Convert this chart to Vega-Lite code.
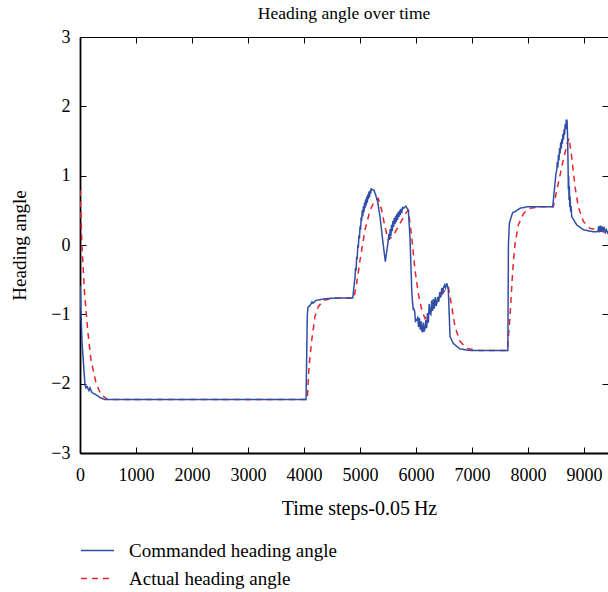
{
  "$schema": "https://vega.github.io/schema/vega-lite/v6.json",
  "autosize": {"type": "none"},
  "padding": {"left": 80, "top": 37, "right": 0, "bottom": 139},
  "width": 528,
  "height": 416,
  "background": "white",
  "title": {"text": "Heading angle over time", "font": "Liberation Serif", "fontSize": 17.5, "fontWeight": "normal", "color": "black", "offset": 6, "anchor": "middle"},
  "config": {"view": {"stroke": null}, "font": "Liberation Serif"},
  "datasets": {
    "cmd": [
      {"t":0,"v":-0.58},{"t":36,"v":-1.4},{"t":89,"v":-2.02},{"t":107,"v":-2.06},{"t":125,"v":-2.04},{"t":161,"v":-2.1},{"t":179,"v":-2.06},{"t":214,"v":-2.13},{"t":268,"v":-2.15},{"t":357,"v":-2.2},{"t":446,"v":-2.23},
      {"t":4036,"v":-2.23},{"t":4059,"v":-1.01},{"t":4071,"v":-0.9},{"t":4107,"v":-0.87},{"t":4125,"v":-0.85},{"t":4143,"v":-0.82},{"t":4161,"v":-0.84},{"t":4214,"v":-0.8},{"t":4375,"v":-0.775},{"t":4554,"v":-0.765},{"t":4870,"v":-0.765},
      {"t":4911,"v":-0.46},{"t":4920,"v":-0.33},{"t":4930,"v":-0.37},{"t":4940,"v":-0.17},{"t":4950,"v":-0.2},{"t":4960,"v":0.0},{"t":4970,"v":-0.04},{"t":4980,"v":0.14},{"t":4990,"v":0.09},{"t":5000,"v":0.27},{"t":5010,"v":0.22},{"t":5020,"v":0.4},{"t":5030,"v":0.35},{"t":5040,"v":0.5},{"t":5050,"v":0.41},{"t":5060,"v":0.56},{"t":5070,"v":0.47},{"t":5080,"v":0.61},{"t":5090,"v":0.53},{"t":5100,"v":0.66},{"t":5110,"v":0.57},{"t":5120,"v":0.7},{"t":5130,"v":0.61},{"t":5140,"v":0.73},{"t":5150,"v":0.66},{"t":5160,"v":0.77},{"t":5170,"v":0.69},{"t":5180,"v":0.79},{"t":5190,"v":0.74},{"t":5200,"v":0.82},{"t":5209,"v":0.8},
      {"t":5250,"v":0.79},{"t":5309,"v":0.65},{"t":5357,"v":0.41},{"t":5405,"v":0.07},{"t":5452,"v":-0.24},
      {"t":5505,"v":0.07},{"t":5515,"v":0.16},{"t":5527,"v":0.08},{"t":5539,"v":0.23},{"t":5551,"v":0.13},{"t":5563,"v":0.29},{"t":5575,"v":0.2},{"t":5587,"v":0.35},{"t":5599,"v":0.26},{"t":5611,"v":0.39},{"t":5623,"v":0.3},{"t":5635,"v":0.42},{"t":5647,"v":0.33},{"t":5659,"v":0.45},{"t":5671,"v":0.36},{"t":5683,"v":0.48},{"t":5695,"v":0.4},{"t":5707,"v":0.5},{"t":5719,"v":0.43},{"t":5731,"v":0.52},{"t":5743,"v":0.46},{"t":5760,"v":0.54},{"t":5780,"v":0.53},{"t":5816,"v":0.56},{"t":5863,"v":0.5},{"t":5893,"v":0.1},
      {"t":5923,"v":-0.65},{"t":5935,"v":-0.8},{"t":5952,"v":-0.94},{"t":5960,"v":-0.92},{"t":5975,"v":-0.95},{"t":5990,"v":-1.1},{"t":6013,"v":-1.08},{"t":6030,"v":-1.05},{"t":6045,"v":-1.18},{"t":6060,"v":-1.05},{"t":6075,"v":-1.22},{"t":6090,"v":-1.1},{"t":6102,"v":-1.23},{"t":6115,"v":-1.26},{"t":6130,"v":-1.12},{"t":6145,"v":-1.25},{"t":6161,"v":-1.2},{"t":6175,"v":-1.08},{"t":6190,"v":-1.2},{"t":6205,"v":-0.98},{"t":6220,"v":-1.12},{"t":6235,"v":-0.85},{"t":6250,"v":-0.98},{"t":6265,"v":-1.0},{"t":6280,"v":-0.8},{"t":6295,"v":-0.95},{"t":6310,"v":-0.78},{"t":6325,"v":-0.92},{"t":6345,"v":-0.75},{"t":6360,"v":-0.88},{"t":6370,"v":-0.84},{"t":6390,"v":-0.75},{"t":6405,"v":-0.82},{"t":6425,"v":-0.68},{"t":6440,"v":-0.76},{"t":6460,"v":-0.62},{"t":6475,"v":-0.7},{"t":6488,"v":-0.62},{"t":6510,"v":-0.58},{"t":6525,"v":-0.62},{"t":6548,"v":-0.55},
      {"t":6577,"v":-0.65},{"t":6607,"v":-1.32},{"t":6666,"v":-1.42},{"t":6786,"v":-1.5},{"t":6964,"v":-1.52},{"t":7640,"v":-1.52},
      {"t":7650,"v":0.0},{"t":7666,"v":0.31},{"t":7709,"v":0.43},{"t":7730,"v":0.47},{"t":7768,"v":0.48},{"t":7857,"v":0.53},{"t":7977,"v":0.55},{"t":8441,"v":0.55},
      {"t":8500,"v":1.04},{"t":8513,"v":1.08},{"t":8523,"v":1.2},{"t":8533,"v":1.12},{"t":8543,"v":1.3},{"t":8553,"v":1.22},{"t":8563,"v":1.4},{"t":8573,"v":1.32},{"t":8583,"v":1.48},{"t":8593,"v":1.39},{"t":8603,"v":1.53},{"t":8613,"v":1.46},{"t":8623,"v":1.6},{"t":8633,"v":1.52},{"t":8643,"v":1.67},{"t":8653,"v":1.59},{"t":8663,"v":1.74},{"t":8673,"v":1.67},{"t":8683,"v":1.8},{"t":8696,"v":1.8},
      {"t":8705,"v":1.6},{"t":8714,"v":1.2},{"t":8720,"v":0.8},{"t":8725,"v":1.0},{"t":8732,"v":0.65},{"t":8738,"v":0.85},{"t":8745,"v":0.55},{"t":8752,"v":0.7},{"t":8760,"v":0.48},{"t":8770,"v":0.56},{"t":8780,"v":0.41},{"t":8870,"v":0.29},{"t":8988,"v":0.22},{"t":9166,"v":0.19},{"t":9232,"v":0.19},
      {"t":9250,"v":0.2},{"t":9260,"v":0.27},{"t":9275,"v":0.18},{"t":9290,"v":0.28},{"t":9305,"v":0.19},{"t":9320,"v":0.27},{"t":9340,"v":0.2},{"t":9360,"v":0.26},{"t":9380,"v":0.18},{"t":9400,"v":0.22},{"t":9428,"v":0.16}
    ],
    "act": [
      {"t":0,"v":0.79},{"t":36,"v":-0.02},{"t":77,"v":-0.65},{"t":137,"v":-1.23},{"t":196,"v":-1.66},{"t":286,"v":-1.99},{"t":375,"v":-2.16},{"t":495,"v":-2.23},
      {"t":4059,"v":-2.23},{"t":4089,"v":-1.76},{"t":4138,"v":-1.37},{"t":4196,"v":-1.03},{"t":4255,"v":-0.89},{"t":4345,"v":-0.8},{"t":4495,"v":-0.77},{"t":4893,"v":-0.765},
      {"t":4941,"v":-0.55},{"t":5000,"v":-0.22},{"t":5089,"v":0.22},{"t":5179,"v":0.5},{"t":5268,"v":0.65},{"t":5327,"v":0.67},{"t":5388,"v":0.5},{"t":5446,"v":0.26},{"t":5505,"v":0.07},{"t":5595,"v":0.14},{"t":5714,"v":0.31},{"t":5834,"v":0.48},{"t":5863,"v":0.5},
      {"t":5923,"v":0.12},{"t":5982,"v":-0.36},{"t":6041,"v":-0.7},{"t":6102,"v":-0.94},{"t":6161,"v":-1.06},{"t":6280,"v":-0.94},{"t":6398,"v":-0.79},{"t":6518,"v":-0.65},{"t":6577,"v":-0.6},
      {"t":6638,"v":-0.89},{"t":6696,"v":-1.18},{"t":6786,"v":-1.39},{"t":6905,"v":-1.49},{"t":7023,"v":-1.51},{"t":7143,"v":-1.52},{"t":7630,"v":-1.52},
      {"t":7679,"v":-1.03},{"t":7727,"v":-0.36},{"t":7768,"v":0.02},{"t":7827,"v":0.29},{"t":7923,"v":0.46},{"t":8036,"v":0.53},{"t":8214,"v":0.55},{"t":8452,"v":0.55},
      {"t":8541,"v":0.89},{"t":8630,"v":1.23},{"t":8702,"v":1.47},{"t":8732,"v":1.54},{"t":8780,"v":1.27},{"t":8839,"v":0.84},{"t":8898,"v":0.55},{"t":8988,"v":0.34},{"t":9107,"v":0.24},{"t":9227,"v":0.22},{"t":9428,"v":0.17}
    ]
  },
  "layer": [
    {
      "data": {"name": "cmd"},
      "mark": {"type": "point", "opacity": 0},
      "encoding": {
        "x": {"field": "t", "type": "quantitative", "scale": {"domain": [0, 9428], "nice": false, "zero": false},
              "axis": {"orient": "top", "values": [0,1000,2000,3000,4000,5000,6000,7000,8000,9000], "labels": false, "title": null, "grid": false, "tickSize": -6, "tickColor": "black", "domainColor": "black", "domainWidth": 1.2}},
        "y": {"field": "v", "type": "quantitative", "scale": {"domain": [-3, 3], "nice": false, "zero": false},
              "axis": {"orient": "right", "values": [-3,-2,-1,0,1,2,3], "labels": false, "title": null, "grid": false, "domain": false, "tickSize": -6, "tickColor": "black"}}
      }
    },
    {
      "layer": [
        {"data": {"name": "act"}, "transform": [{"calculate": "'Actual heading angle'", "as": "series"}], "mark": {"type": "line", "clip": true, "strokeWidth": 1.5}, "encoding": {}},
        {"data": {"name": "cmd"}, "transform": [{"calculate": "'Commanded heading angle'", "as": "series"}], "mark": {"type": "line", "clip": true, "strokeWidth": 1.5}, "encoding": {}}
      ],
      "encoding": {
        "x": {"field": "t", "type": "quantitative", "scale": {"domain": [0, 9428], "nice": false, "zero": false},
              "axis": {"orient": "bottom", "values": [0,1000,2000,3000,4000,5000,6000,7000,8000,9000], "format": "d", "grid": false, "tickSize": -6, "tickColor": "black", "domainColor": "black", "domainWidth": 1.8, "labelFont": "Liberation Serif", "labelFontSize": 18, "labelColor": "black", "labelPadding": 19, "labelFlush": false, "labelOverlap": false,
                       "title": "Time steps-0.05\u2009Hz", "titleFont": "Liberation Serif", "titleFontSize": 20, "titleFontWeight": "normal", "titleColor": "black", "titleX": 279, "titleY": 55, "titleBaseline": "middle", "titleAlign": "center"}},
        "y": {"field": "v", "type": "quantitative", "scale": {"domain": [-3, 3], "nice": false, "zero": false},
              "axis": {"orient": "left", "values": [-3,-2,-1,0,1,2,3], "format": "d", "grid": false, "tickSize": -6, "tickColor": "black", "domainColor": "black", "domainWidth": 1.8, "labelFont": "Liberation Serif", "labelFontSize": 18, "labelColor": "black", "labelPadding": 16, "labelFlush": false, "labelOverlap": false,
                       "title": "Heading angle", "titleFont": "Liberation Serif", "titleFontSize": 19, "titleFontWeight": "normal", "titleColor": "black", "titleX": -61, "titleY": 208, "titleBaseline": "middle", "titleAlign": "center"}},
        "color": {"field": "series", "type": "nominal", "sort": ["Commanded heading angle", "Actual heading angle"],
                  "scale": {"domain": ["Commanded heading angle", "Actual heading angle"], "range": ["#2f4fa6", "#e8222b"]},
                  "legend": {"orient": "none", "legendX": 0, "legendY": 496, "title": null, "direction": "vertical", "symbolType": "stroke", "symbolSize": 1100, "symbolStrokeWidth": 1.5, "labelFont": "Liberation Serif", "labelFontSize": 19, "labelColor": "black", "labelOffset": 14, "rowPadding": -6, "padding": 0, "labelLimit": 400}},
        "strokeDash": {"field": "series", "type": "nominal", "sort": ["Commanded heading angle", "Actual heading angle"],
                  "scale": {"domain": ["Commanded heading angle", "Actual heading angle"], "range": [[1, 0], [6, 5]]},
                  "legend": {"orient": "none", "legendX": 0, "legendY": 496, "title": null, "direction": "vertical", "symbolType": "stroke", "symbolSize": 1100, "symbolStrokeWidth": 1.5, "labelFont": "Liberation Serif", "labelFontSize": 19, "labelColor": "black", "labelOffset": 14, "rowPadding": -6, "padding": 0, "labelLimit": 400}}
      }
    }
  ]
}
